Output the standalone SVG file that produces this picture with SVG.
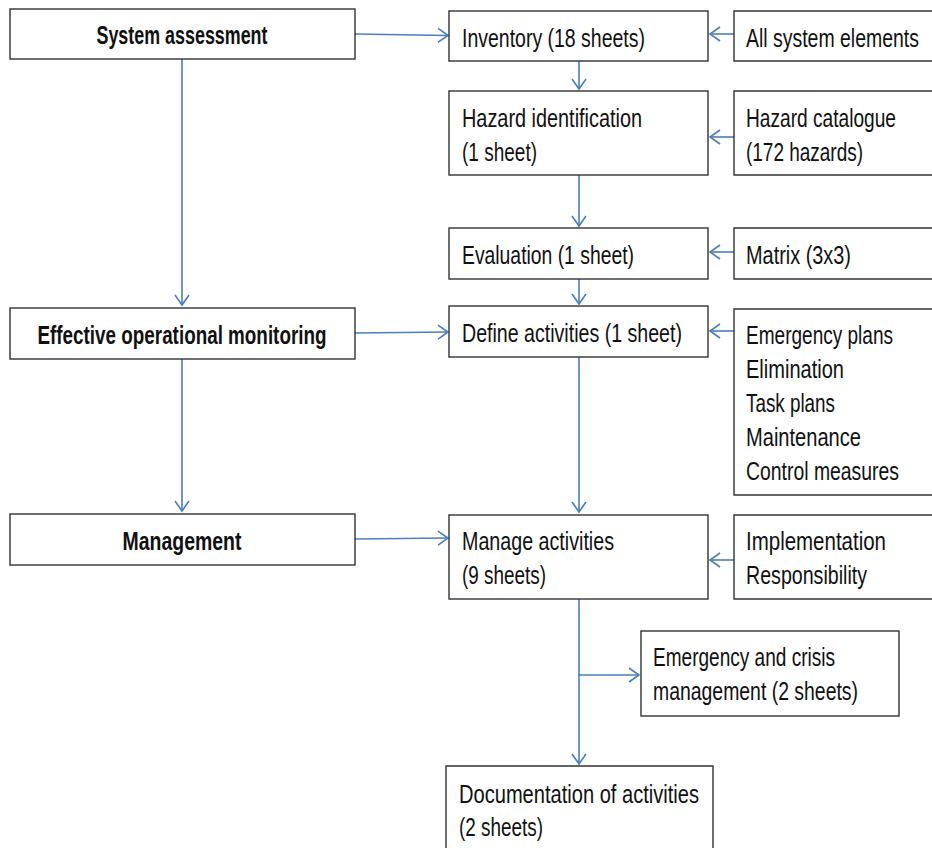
<svg xmlns="http://www.w3.org/2000/svg" width="932" height="848" viewBox="0 0 932 848">
<style>
.box{fill:#fff;stroke:#333;stroke-width:1.4}
.t{font-family:"Liberation Sans",Arial,sans-serif;font-size:25px;fill:#111}
.b{font-weight:bold;text-anchor:middle}
.c{fill:none;stroke:#4a7ebf;stroke-width:1.6;marker-end:url(#ah)}
</style>
<defs>
<marker id="ah" markerUnits="userSpaceOnUse" markerWidth="14" markerHeight="18" refX="11" refY="8" orient="auto">
<path d="M1,1 L11,8 L1,15" fill="none" stroke="#4a7ebf" stroke-width="1.6"/>
</marker>
</defs>
<rect width="932" height="848" fill="#fff"/>
<g id="connectors">
<path class="c" d="M355,34 L448,35.5"/>
<path class="c" d="M734,34 L710,34"/>
<path class="c" d="M579,61 L579,89"/>
<path class="c" d="M734,137 L710,137"/>
<path class="c" d="M579,175 L579,226"/>
<path class="c" d="M734,252 L710,252"/>
<path class="c" d="M579,279 L579,304"/>
<path class="c" d="M182,59 L182,305"/>
<path class="c" d="M355,333 L448,332"/>
<path class="c" d="M734,331 L710,331"/>
<path class="c" d="M579,357 L579,512"/>
<path class="c" d="M182,359 L182,511"/>
<path class="c" d="M355,539 L448,538"/>
<path class="c" d="M734,560 L710,560"/>
<path class="c" d="M579,599 L579,764"/>
<path class="c" d="M579,675 L639,675"/>
</g>
<g id="system-assessment"><rect class="box" x="10" y="9" width="345" height="50"/><text class="t b" x="182" y="44" textLength="171" lengthAdjust="spacingAndGlyphs">System assessment</text></g>
<g id="effective-monitoring"><rect class="box" x="10" y="308" width="345" height="51"/><text class="t b" x="182" y="344" textLength="289" lengthAdjust="spacingAndGlyphs">Effective operational monitoring</text></g>
<g id="management"><rect class="box" x="10" y="514" width="345" height="51"/><text class="t b" x="182" y="550" textLength="119" lengthAdjust="spacingAndGlyphs">Management</text></g>
<g id="inventory"><rect class="box" x="449" y="11" width="259" height="50"/><text class="t" x="462" y="47" textLength="183" lengthAdjust="spacingAndGlyphs">Inventory (18 sheets)</text></g>
<g id="hazard-identification"><rect class="box" x="449" y="91" width="259" height="84"/><text class="t" x="462" y="127" textLength="180" lengthAdjust="spacingAndGlyphs">Hazard identification</text><text class="t" x="462" y="161" textLength="75" lengthAdjust="spacingAndGlyphs">(1 sheet)</text></g>
<g id="evaluation"><rect class="box" x="449" y="228" width="259" height="51"/><text class="t" x="462" y="264" textLength="172" lengthAdjust="spacingAndGlyphs">Evaluation (1 sheet)</text></g>
<g id="define-activities"><rect class="box" x="449" y="306" width="259" height="51"/><text class="t" x="462" y="342" textLength="220" lengthAdjust="spacingAndGlyphs">Define activities (1 sheet)</text></g>
<g id="manage-activities"><rect class="box" x="449" y="515" width="259" height="84"/><text class="t" x="462" y="550" textLength="152" lengthAdjust="spacingAndGlyphs">Manage activities</text><text class="t" x="462" y="584" textLength="84" lengthAdjust="spacingAndGlyphs">(9 sheets)</text></g>
<g id="all-system-elements"><path class="box" d="M932,11 H734 V61 H932"/><g transform="translate(746 0) scale(0.72 1)"><text class="t" x="0" y="47" textLength="240.3" lengthAdjust="spacingAndGlyphs">All system elements</text></g></g>
<g id="hazard-catalogue"><path class="box" d="M932,91 H734 V175 H932"/><g transform="translate(746 0) scale(0.72 1)"><text class="t" x="0" y="127" textLength="208.3" lengthAdjust="spacingAndGlyphs">Hazard catalogue</text><text class="t" x="0" y="161" textLength="162.5" lengthAdjust="spacingAndGlyphs">(172 hazards)</text></g></g>
<g id="matrix"><path class="box" d="M932,228 H734 V279 H932"/><g transform="translate(746 0) scale(0.72 1)"><text class="t" x="0" y="264" textLength="145.8" lengthAdjust="spacingAndGlyphs">Matrix (3x3)</text></g></g>
<g id="measures"><path class="box" d="M932,309 H734 V495 H932"/><g transform="translate(746 0) scale(0.72 1)">
<text class="t" x="0" y="344" textLength="204.2" lengthAdjust="spacingAndGlyphs">Emergency plans</text>
<text class="t" x="0" y="378" textLength="136.1" lengthAdjust="spacingAndGlyphs">Elimination</text>
<text class="t" x="0" y="412" textLength="123.6" lengthAdjust="spacingAndGlyphs">Task plans</text>
<text class="t" x="0" y="446" textLength="159.7" lengthAdjust="spacingAndGlyphs">Maintenance</text>
<text class="t" x="0" y="480" textLength="212.5" lengthAdjust="spacingAndGlyphs">Control measures</text></g></g>
<g id="implementation"><path class="box" d="M932,515 H734 V599 H932"/><g transform="translate(746 0) scale(0.72 1)"><text class="t" x="0" y="550" textLength="194.4" lengthAdjust="spacingAndGlyphs">Implementation</text><text class="t" x="0" y="584" textLength="168.1" lengthAdjust="spacingAndGlyphs">Responsibility</text></g></g>
<g id="emergency-crisis"><rect class="box" x="641" y="631" width="258" height="85"/><text class="t" x="653" y="666" textLength="182" lengthAdjust="spacingAndGlyphs">Emergency and crisis</text><text class="t" x="653" y="700" textLength="205" lengthAdjust="spacingAndGlyphs">management (2 sheets)</text></g>
<g id="documentation"><path class="box" d="M446,848 V766 H713 V848"/><text class="t" x="459" y="803" textLength="240" lengthAdjust="spacingAndGlyphs">Documentation of activities</text><text class="t" x="459" y="836" textLength="84" lengthAdjust="spacingAndGlyphs">(2 sheets)</text></g>
</svg>
